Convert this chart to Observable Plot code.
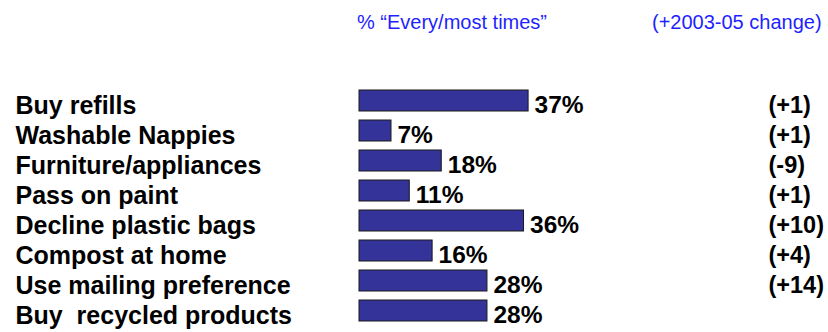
<!DOCTYPE html>
<html>
<head>
<meta charset="utf-8">
<script src="https://cdn.jsdelivr.net/npm/d3@7"></script>
<script src="https://cdn.jsdelivr.net/npm/@observablehq/plot@0.6"></script>
<style>
  html, body { margin: 0; padding: 0; background: #fff; }
  #wrap { position: relative; width: 828px; height: 332px; font-family: "Liberation Sans", Arial, sans-serif; }
  #wrap svg text { white-space: pre; }
  .hdr { position: absolute; top: 12px; font-size: 20px; line-height: 20px; color: #1f1fff; white-space: pre; }
</style>
</head>
<body>
<div id="wrap">
  <div class="hdr" id="h1" style="left:357px;"></div>
  <div class="hdr" id="h2" style="left:652px;"></div>
</div>
<script>
const categories = ["Buy refills", "Washable Nappies", "Furniture/appliances", "Pass on paint", "Decline plastic bags", "Compost at home", "Use mailing preference", "Buy  recycled products"];
const values = [37, 7, 18, 11, 36, 16, 28, 28];
const changes = ["(+1)", "(+1)", "(-9)", "(+1)", "(+10)", "(+4)", "(+14)", ""];
const headerLeft = "% \u201CEvery/most times\u201D";
const headerRight = "(+2003-05 change)";

document.getElementById("h1").textContent = headerLeft;
document.getElementById("h2").textContent = headerRight;

const data = categories.map((c, i) => ({category: c, value: values[i], change: changes[i]}));
const font = "Liberation Sans, Arial, sans-serif";

const chart = Plot.plot({
  width: 828,
  height: 332,
  marginTop: 82.5,
  marginBottom: 2.5,
  marginLeft: 359,
  marginRight: 12,
  x: {domain: [0, 100], axis: null},
  y: {domain: categories, axis: null, paddingInner: 0.29, paddingOuter: 0.145},
  style: {fontFamily: font, background: "transparent", overflow: "visible"},
  marks: [
    Plot.barX(data, {x: "value", y: "category", fill: "#333399", stroke: "#1a1a1a", strokeWidth: 1}),
    Plot.text(data, {x: "value", y: "category", text: d => d.value + "%", textAnchor: "start", dx: 6, dy: 4, fontSize: 24.5, fontWeight: "bold", fill: "#000"}),
    Plot.text(data, {y: "category", frameAnchor: "left", text: "category", textAnchor: "start", dx: -344, dy: 5, fontSize: 25, fontWeight: "bold", fill: "#000"}),
    Plot.text(data.filter(d => d.change), {y: "category", frameAnchor: "right", text: "change", textAnchor: "start", dx: -48, dy: 4, fontSize: 23.5, fontWeight: "bold", fill: "#000"})
  ]
});
chart.style.position = "absolute";
chart.style.left = "0";
chart.style.top = "0";
document.getElementById("wrap").appendChild(chart);
</script>
</body>
</html>
